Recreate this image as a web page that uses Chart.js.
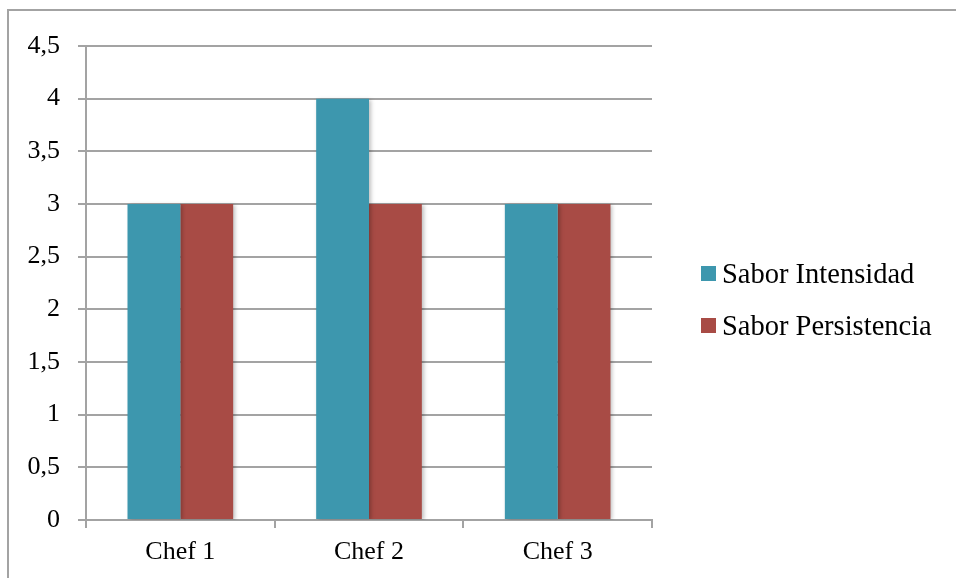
<!DOCTYPE html>
<html>
<head>
<meta charset="utf-8">
<script src="https://cdn.jsdelivr.net/npm/chart.js@4.4.0/dist/chart.umd.min.js"></script>
<style>
  html, body { margin: 0; padding: 0; background: #fff; overflow: hidden; }
  #wrap { position: relative; width: 956px; height: 578px; overflow: hidden; }
  #frame { position: absolute; left: 7px; top: 9px; right: 0; bottom: 0; border-top: 2px solid #a3a3a3; border-left: 2px solid #a3a3a3; }
  canvas { position: absolute; left: 0; top: 0; }
</style>
</head>
<body>
<div id="wrap">
  <div id="frame"></div>
  <canvas id="barChart" width="956" height="578"></canvas>
</div>
<script>
var chefs = ["Chef 1", "Chef 2", "Chef 3"];
var intensidad = [3, 4, 3];
var persistencia = [3, 3, 3];
var seriesNames = ["Sabor Intensidad", "Sabor Persistencia"];
var seriesColors = ["#3d97ae", "#a84b45"];

var fontFamily = "'Liberation Serif', 'Times New Roman', serif";

// legend drawn to the right of the plot, rows stacked
var sideLegend = {
  id: "sideLegend",
  afterDraw: function (chart) {
    var ctx = chart.ctx;
    var area = chart.chartArea;
    var sets = chart.data.datasets;
    var mid = (area.top + area.bottom) / 2 + 18;
    ctx.save();
    ctx.font = "28.5px " + fontFamily;
    ctx.textBaseline = "middle";
    ctx.textAlign = "left";
    for (var i = 0; i < sets.length; i++) {
      var y = mid + (i - (sets.length - 1) / 2) * 52;
      ctx.fillStyle = sets[i].backgroundColor;
      ctx.fillRect(area.right + 49, y - 9, 15, 15);
      ctx.fillStyle = "#000";
      ctx.fillText(sets[i].label, area.right + 70, y + 1);
    }
    ctx.restore();
  }
};

// soft shadow on the bars
var barShadow = {
  id: "barShadow",
  beforeDatasetsDraw: function (chart) {
    var ctx = chart.ctx;
    ctx.save();
    ctx.shadowColor = "rgba(0,0,0,0.25)";
    ctx.shadowBlur = 4;
    ctx.shadowOffsetX = 2;
    ctx.shadowOffsetY = 1;
  },
  afterDatasetsDraw: function (chart) {
    chart.ctx.restore();
  }
};

var ctx = document.getElementById("barChart").getContext("2d");
var chart = new Chart(ctx, {
  type: "bar",
  data: {
    labels: chefs,
    datasets: [
      { label: seriesNames[0], data: intensidad, backgroundColor: seriesColors[0] },
      { label: seriesNames[1], data: persistencia, backgroundColor: seriesColors[1] }
    ]
  },
  options: {
    responsive: false,
    animation: false,
    layout: { padding: { top: 46, right: 304, bottom: 0, left: 0 } },
    datasets: { bar: { barPercentage: 1, categoryPercentage: 0.56, borderWidth: 0 } },
    plugins: {
      legend: { display: false },
      tooltip: { enabled: false }
    },
    scales: {
      x: {
        grid: { drawOnChartArea: false, color: "#a3a3a3", lineWidth: 2, tickLength: 8, offset: true },
        border: { color: "#a3a3a3", width: 2 },
        ticks: { color: "#000", font: { family: fontFamily, size: 26 }, padding: 9 },
        afterFit: function (scale) { scale.height = 58; }
      },
      y: {
        min: 0,
        max: 4.5,
        grid: { color: "#a3a3a3", lineWidth: 2, tickLength: 8 },
        border: { color: "#a3a3a3", width: 2 },
        ticks: {
          stepSize: 0.5,
          color: "#000",
          font: { family: fontFamily, size: 26 },
          padding: 18,
          callback: function (v) { return String(v).replace(".", ","); }
        },
        afterFit: function (scale) { scale.width = 86; }
      }
    }
  },
  plugins: [barShadow, sideLegend]
});
</script>
</body>
</html>
